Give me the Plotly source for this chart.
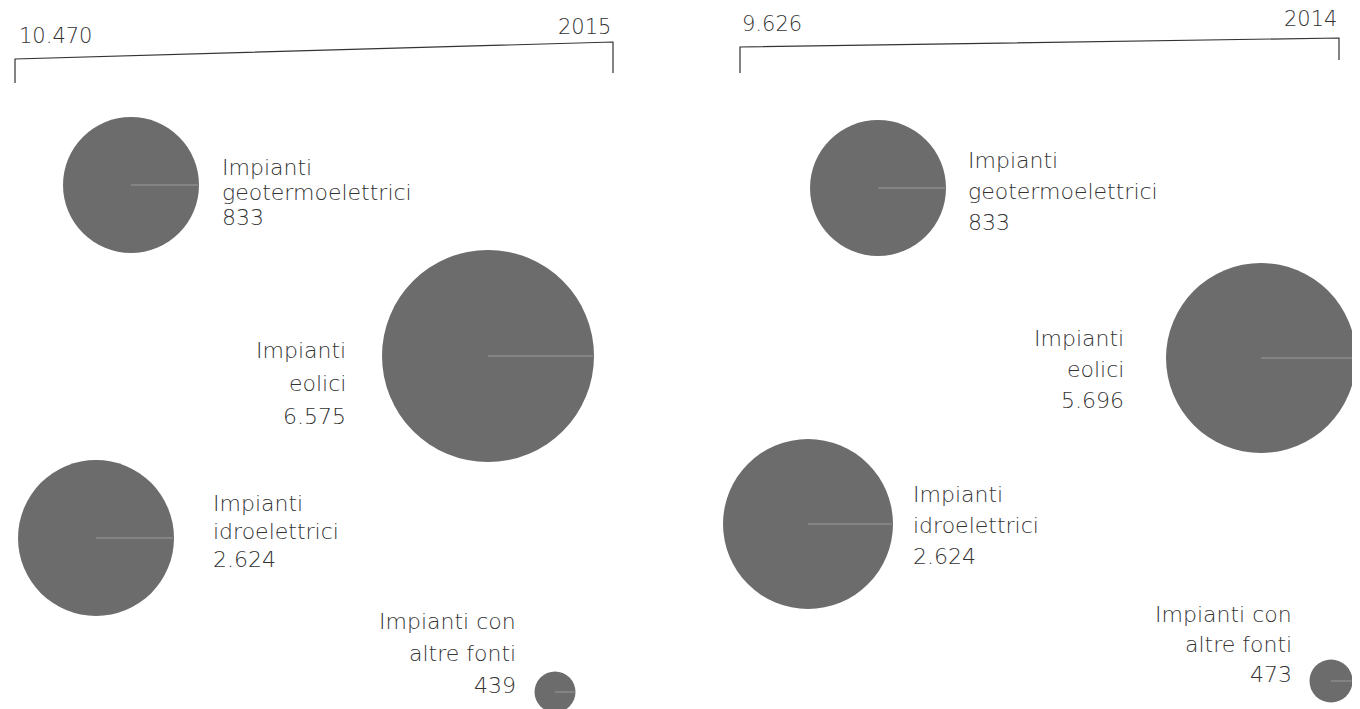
import plotly.graph_objects as go

# ---- data ----
years = ["2015", "2014"]
totals = [10470, 9626]
categories = ["Impianti<br>geotermoelettrici", "Impianti<br>eolici",
              "Impianti<br>idroelettrici", "Impianti con<br>altre fonti"]
values_2015 = [833, 6575, 2624, 439]
values_2014 = [833, 5696, 2624, 473]

# ---- layout / style (pixel space) ----
W, H = 1360, 709
bubble_color = "#6c6c6c"
text_color = "#333333"
FONT = "DejaVu Sans"
LABEL_SIZE = 22
HEAD_SIZE = 21

# per panel: bubble centres, diameters, label anchor (x, first-line y, spacing, align)
panels = [
    dict(values=values_2015,
         centers=[(123, 177), (480, 348), (88, 530), (547, 684)],
         diam=[136, 212, 156, 41],
         labels=[(212, 159, 25, "left"), (340, 342, 33, "right"),
                 (203, 495, 28, "left"), (510, 613, 32, "right")],
         total_pos=(9, 28), year_pos=(605, 19),
         bracket="M 7 75 L 7 51 L 605 34 L 605 65"),
    dict(values=values_2014,
         centers=[(870, 180), (1253, 350), (800, 516), (1323, 673)],
         diam=[136, 190, 170, 43],
         labels=[(958, 152, 31, "left"), (1118, 330, 31, "right"),
                 (903, 486, 31, "left"), (1286, 606, 30, "right")],
         total_pos=(732, 16), year_pos=(1331, 11),
         bracket="M 732 65 L 732 39 L 1331 30 L 1331 52"),
]


def fmt(v):
    return f"{v:,}".replace(",", ".")


fig = go.Figure()
shapes = []
annotations = []

for p, year, total in zip(panels, years, totals):
    xs = [c[0] for c in p["centers"]]
    ys = [c[1] for c in p["centers"]]
    fig.add_trace(go.Scatter(
        x=xs, y=ys, mode="markers",
        marker=dict(size=p["diam"], color=bubble_color, opacity=1, line=dict(width=0)),
        customdata=p["values"], hoverinfo="skip", showlegend=False))
    # thin light seam from centre to right edge (as in the printed chart)
    for (cx, cy), d in zip(p["centers"], p["diam"]):
        shapes.append(dict(type="line", x0=cx, y0=cy, x1=cx + d / 2 - 1, y1=cy,
                           line=dict(color="#9a9a9a", width=1), layer="above"))
    for cat, v, (lx, ly, sp, al) in zip(categories, p["values"], p["labels"]):
        lines = cat.split("<br>") + [fmt(v)]
        for i, ln in enumerate(lines):
            annotations.append(dict(
                x=lx, y=ly + i * sp, xref="x", yref="y", text=ln,
                showarrow=False, xanchor=al, yanchor="middle", align=al,
                font=dict(family=FONT, size=LABEL_SIZE, color=text_color, weight=300)))
    annotations.append(dict(x=p["total_pos"][0], y=p["total_pos"][1], xref="x", yref="y",
                            text=fmt(total), showarrow=False, xanchor="left", yanchor="middle",
                            font=dict(family=FONT, size=HEAD_SIZE, color=text_color, weight=300)))
    annotations.append(dict(x=p["year_pos"][0], y=p["year_pos"][1], xref="x", yref="y",
                            text=year, showarrow=False, xanchor="right", yanchor="middle",
                            font=dict(family=FONT, size=HEAD_SIZE, color=text_color, weight=300)))
    shapes.append(dict(type="path", path=p["bracket"], xref="x", yref="y",
                       line=dict(color="#333333", width=1.2)))

fig.update_layout(
    width=W, height=H,
    margin=dict(l=0, r=0, t=0, b=0),
    paper_bgcolor="white", plot_bgcolor="white",
    xaxis=dict(range=[0, W], visible=False, fixedrange=True),
    yaxis=dict(range=[H, 0], visible=False, fixedrange=True),
    shapes=shapes, annotations=annotations,
)

fig.write_html("out.html")
